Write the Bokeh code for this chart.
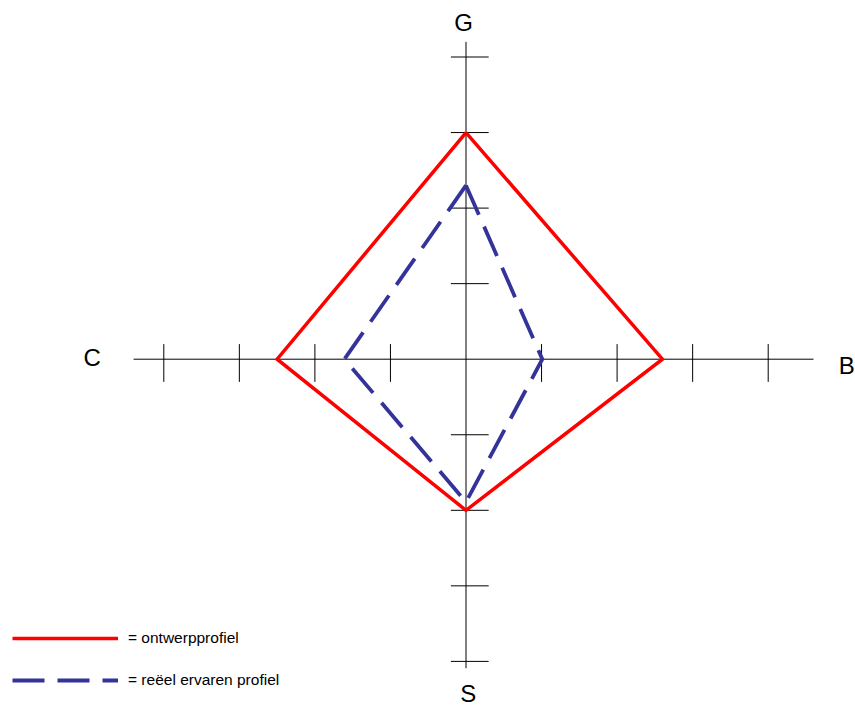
from bokeh.plotting import figure
from bokeh.models import Range1d, Legend, LegendItem
from bokeh.core.properties import value
from bokeh.embed import file_html
from bokeh.resources import INLINE

# ---- data ----
axis_labels = ["G", "B", "S", "C"]
ontwerpprofiel = [3.0, 2.6, 2.0, 2.5]          # G, B, S, C
reeel_profiel = [2.3, 1.01, 1.89, 1.61]        # G, B, S, C
tick_values = [1, 2, 3, 4]
legend_labels = ["= ontwerpprofiel", "= reëel ervaren profiel"]

# axis directions: G up, B right, S down, C left
DIRS = [(0, 1), (1, 0), (0, -1), (-1, 0)]


def polygon(vals):
    xs = [d[0] * v for d, v in zip(DIRS, vals)]
    ys = [d[1] * v for d, v in zip(DIRS, vals)]
    return xs + [xs[0]], ys + [ys[0]]


UNIT = 75.55
W, H = 855, 709
CX, CY = 465.5, 358.7

p = figure(width=W, height=H,
           x_range=Range1d(-CX / UNIT, (W - CX) / UNIT),
           y_range=Range1d(-(H - CY) / UNIT, CY / UNIT),
           x_axis_type=None, y_axis_type=None,
           output_backend="svg", toolbar_location=None, min_border=0)
p.grid.visible = False
p.outline_line_color = None
p.background_fill_color = "white"

FONT_NAME = "Liberation Sans"
FONT = value(FONT_NAME)

# axes
p.segment(x0=[-4.4, 0], y0=[0, 4.2], x1=[4.6, 0], y1=[0, -4.09],
          line_color="black", line_width=1)
tpos = [-t for t in tick_values] + tick_values
p.segment(x0=tpos, y0=[0.2] * len(tpos), x1=tpos, y1=[-0.3] * len(tpos),
          line_color="black", line_width=1)
p.segment(x0=[-0.2] * len(tpos), y0=tpos, x1=[0.3] * len(tpos), y1=tpos,
          line_color="black", line_width=1)

# axis labels
lab_x = [-0.033, 5.04, 0.03, -4.948]
lab_y = [4.457, -0.09, -4.43, 0.022]
p.text(x=lab_x, y=lab_y, text=axis_labels, text_font=FONT,
       text_font_size="24px", text_align="center", text_baseline="middle",
       text_color="black")

# profiles
rx, ry = polygon(ontwerpprofiel)
r1 = p.line(rx, ry, line_color="#FF0000", line_width=3.5, line_join="miter")
bx, by = polygon(reeel_profiel)
r2 = p.line(bx, by, line_color="#333399", line_width=3.8, line_join="miter",
            line_dash="32 13")

common = dict(orientation="vertical", glyph_width=106, glyph_height=20,
              label_standoff=10, padding=0, margin=0,
              border_line_color=None, background_fill_alpha=0,
              label_text_font=FONT_NAME, label_text_font_size="15.5px",
              label_text_color="black")
legend1 = Legend(items=[LegendItem(label=legend_labels[0], renderers=[r1])],
                 location=(12, 61), **common)
legend2 = Legend(items=[LegendItem(label=legend_labels[1], renderers=[r2])],
                 location=(12, 11), label_height=36, **common)
p.add_layout(legend1)
p.add_layout(legend2)

open("out.html", "w").write(file_html(p, INLINE))
